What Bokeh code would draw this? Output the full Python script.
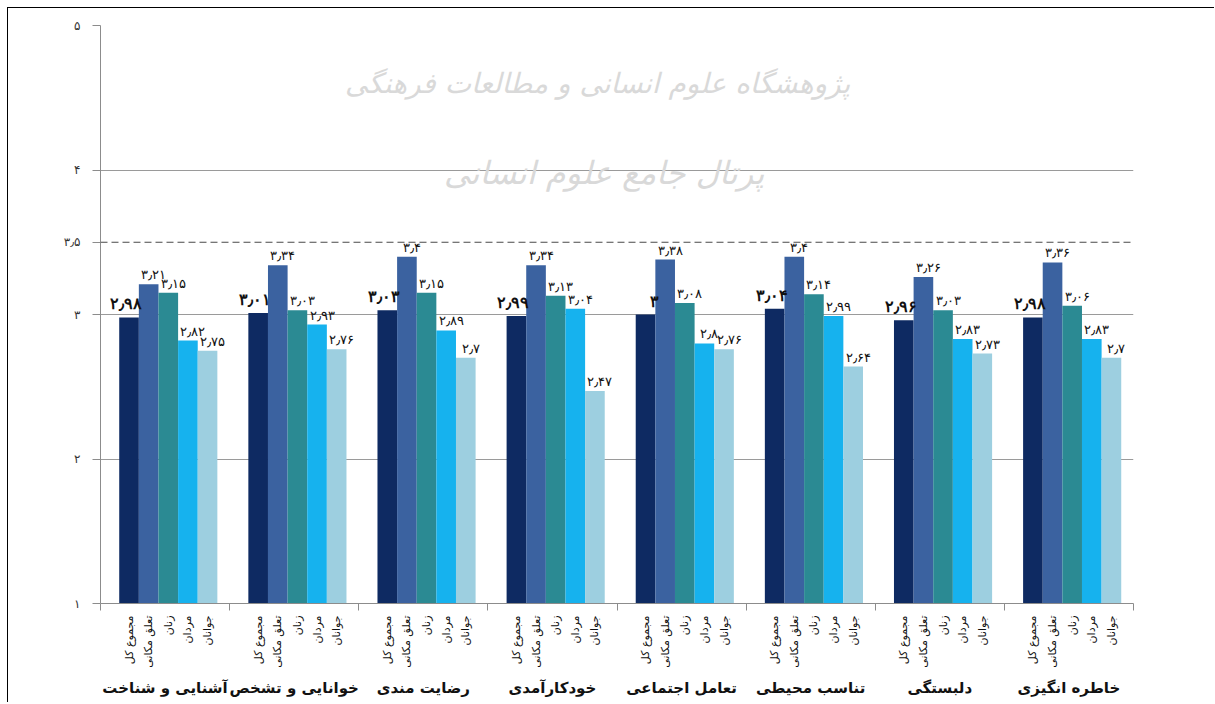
import math
from bokeh.plotting import figure
from bokeh.models import (FixedTicker, LinearAxis, Range1d, Span, Label,
                          ColumnDataSource, Grid)
from bokeh.embed import file_html
from bokeh.resources import INLINE

# ---------------- data ----------------
groups = ["آشنایی و شناخت", "خوانایی و تشخص", "رضایت مندی", "خودکارآمدی",
          "تعامل اجتماعی", "تناسب محیطی", "دلبستگی", "خاطره انگیزی"]
series_names = ["مجموع کل", "تعلق مکانی", "زنان", "مردان", "جوانان"]
s1 = [2.98, 3.01, 3.03, 2.99, 3.00, 3.04, 2.96, 2.98]
s2 = [3.21, 3.34, 3.40, 3.34, 3.38, 3.40, 3.26, 3.36]
s3 = [3.15, 3.03, 3.15, 3.13, 3.08, 3.14, 3.03, 3.06]
s4 = [2.82, 2.93, 2.89, 3.04, 2.80, 2.99, 2.83, 2.83]
s5 = [2.75, 2.76, 2.70, 2.47, 2.76, 2.64, 2.73, 2.70]
series = [s1, s2, s3, s4, s5]
threshold = 3.5
y_ticks = [1, 2, 3, 3.5, 4, 5]
grid_ticks = [2, 3, 4, 5]
watermark_1 = "پژوهشگاه علوم انسانی و مطالعات فرهنگی"
watermark_2 = "پرتال جامع علوم انسانی"

colors = ["#0e2a62", "#3b62a0", "#2b8a93", "#16b2ee", "#9dcfe0"]
FONT = "DejaVu Sans"

FA_DIGITS = str.maketrans("0123456789.", "۰۱۲۳۴۵۶۷۸۹٫")


def fa(v):
    return f"{v:g}".translate(FA_DIGITS)


n_groups = len(groups)
bar_w = 0.152
shift = 0.025
offsets = [(i - 2) * bar_w + shift for i in range(len(series))]
centers = [g + 0.5 for g in range(n_groups)]

p = figure(width=1207, height=695, x_range=Range1d(0, n_groups),
           y_range=Range1d(1, 5), output_backend="svg", toolbar_location=None,
           x_axis_type=None, y_axis_type=None,
           min_border_left=92, min_border_right=82, min_border_top=17,
           min_border_bottom=100)
p.outline_line_color = None
p.background_fill_color = "white"
p.border_fill_color = "white"
p.styles = {"margin-left": "7px", "margin-top": "7px",
            "border-top": "1px solid #000", "border-left": "1px solid #000"}

# grid
p.add_layout(Grid(dimension=1, ticker=FixedTicker(ticks=grid_ticks),
                  grid_line_color="#9a9a9a", grid_line_width=1))
p.add_layout(Span(location=threshold, dimension="width", line_color="#4a4a4a",
                  line_width=1.2, line_dash="7 4"))

# watermark
p.add_layout(Label(x=3.85, y=4.6, text=watermark_1, text_font=FONT,
                   text_font_size="28px", text_color="#d9d9d9",
                   text_align="center", text_baseline="middle",
                   text_font_style="italic", level="underlay"))
p.add_layout(Label(x=3.9, y=3.98, text=watermark_2, text_font=FONT,
                   text_font_size="32px", text_color="#d9d9d9",
                   text_align="center", text_baseline="middle",
                   text_font_style="italic", level="underlay"))

# bars
bar_positions = []
bar_labels = {}
sources = []
for si, vals in enumerate(series):
    xs = [c + offsets[si] for c in centers]
    bar_positions += xs
    for x in xs:
        bar_labels[x] = series_names[si]
    src = ColumnDataSource(dict(x=xs, top=vals, label=[fa(v) for v in vals]))
    sources.append(src)
    p.vbar(x="x", top="top", bottom=1, width=bar_w, source=src,
           fill_color=colors[si], line_color=None)

# value labels (drawn after all bars)
for si, src in enumerate(sources):
    if si == 0:
        p.text(x="x", y="top", text="label", source=src, text_font=FONT,
               text_font_size="16px", text_font_style="bold",
               text_color="#111111", text_align="right",
               text_baseline="bottom", x_offset=13, y_offset=-5)
    else:
        p.text(x="x", y="top", text="label", source=src, text_font=FONT,
               text_font_size="13px", text_color="#111111",
               text_align="center", text_baseline="bottom",
               x_offset=5, y_offset=-2)

# y axis
yax = LinearAxis(ticker=FixedTicker(ticks=y_ticks),
                 major_label_overrides={t: fa(t) for t in y_ticks},
                 axis_line_color="#8c8c8c", major_tick_line_color="#8c8c8c",
                 major_tick_out=8, major_tick_in=0, minor_tick_out=0,
                 major_label_text_font=FONT, major_label_text_font_size="12px",
                 major_label_text_color="#333333", major_label_standoff=12)
p.add_layout(yax, "left")

# x axis: bar sub-labels + group boundary ticks
bounds = list(range(n_groups + 1))
xax = LinearAxis(ticker=FixedTicker(ticks=sorted(bar_positions), minor_ticks=bounds),
                 major_label_overrides=bar_labels,
                 major_label_orientation=math.pi / 2,
                 axis_line_color="#8c8c8c", major_tick_out=0, major_tick_in=0,
                 minor_tick_out=7, minor_tick_in=0,
                 minor_tick_line_color="#8c8c8c",
                 major_label_text_font=FONT, major_label_text_font_size="11px",
                 major_label_text_color="#111111", major_label_standoff=5)
p.add_layout(xax, "below")

# group names
gax = LinearAxis(ticker=FixedTicker(ticks=centers),
                 major_label_overrides={c: g for c, g in zip(centers, groups)},
                 axis_line_color=None, major_tick_out=0, major_tick_in=0,
                 minor_tick_out=0, major_label_text_font=FONT,
                 major_label_text_font_size="15px",
                 major_label_text_font_style="bold",
                 major_label_text_color="#111111", major_label_standoff=8)
p.add_layout(gax, "below")

open("out.html", "w").write(file_html(p, INLINE))
